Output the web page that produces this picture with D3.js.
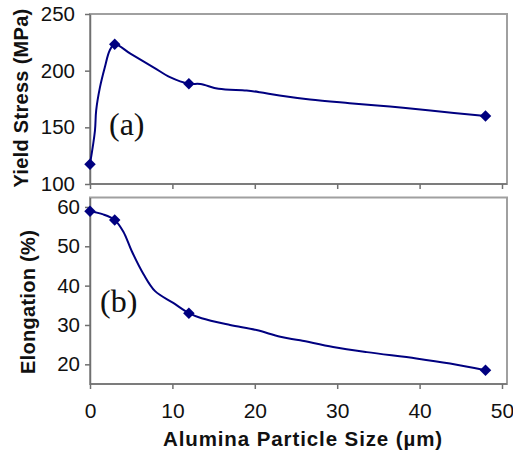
<!DOCTYPE html>
<html><head><meta charset="utf-8">
<script src="https://cdn.jsdelivr.net/npm/d3@7"></script>
<style>body{margin:0;background:#fff}svg{display:block}</style>
</head><body>
<svg id="c" width="513" height="453"></svg>
<script>
// ---- data ----
const particleSizes = [0, 3, 12, 48];
const yieldStress = [117.5, 223.3, 188.5, 160];
const elongation = [58.9, 56.7, 33, 18.5];
// traced smooth curve points (size, value)
const yieldCurveX = [0, 0.6, 0.75, 1.2, 1.8, 2.4, 3, 4.9, 7.7, 9.7, 12, 13.4, 15.6, 19, 20.6, 23, 26.7, 31.5, 36.4, 41.3, 48];
const yieldCurveY = [117.5, 147, 165, 185, 203, 218, 223.3, 215, 203, 194.3, 188.5, 188.2, 184, 182.5, 181, 178, 174.5, 171.3, 168.3, 164.8, 160];
const elongCurveX = [0, 1.6, 3, 4.05, 5.06, 6.5, 7.9, 10.1, 12, 13.55, 17, 20.2, 23.1, 25.5, 29.5, 33.6, 39.6, 43.7, 48];
const elongCurveY = [58.9, 58.1, 56.7, 53.7, 48.8, 42.9, 38.6, 35.6, 33, 31.7, 30, 28.7, 27, 26.1, 24.4, 23.1, 21.5, 20.2, 18.5];
const xTicks = [0, 10, 20, 30, 40, 50];
const yieldTicks = [100, 150, 200, 250];
const elongTicks = [20, 30, 40, 50, 60];

const svg = d3.select("#c");
const lineColor = "#000080";
const font = "'Liberation Sans', Arial, sans-serif";

const x = d3.scaleLinear().domain([0, 50]).range([90, 502]);
const frameRight = 507;

function panel(opts) {
  const y = d3.scaleLinear().domain(opts.domain).range([opts.bottom, opts.top]);
  const g = svg.append("g");
  // frame
  g.append("rect").attr("x", 90).attr("y", opts.top)
    .attr("width", frameRight - 90).attr("height", opts.bottom - opts.top)
    .attr("fill", "none").attr("stroke", "#a0a0a0").attr("stroke-width", 2);
  // y axis
  const ya = g.append("g").attr("transform", "translate(90,0)")
    .call(d3.axisLeft(y).tickValues(opts.ticks).tickSize(5).tickSizeOuter(0).tickPadding(opts.pad));
  ya.select(".domain").attr("stroke", "#707070").attr("stroke-width", 1.5);
  ya.selectAll(".tick line").attr("stroke", "#707070").attr("stroke-width", 1.5);
  ya.selectAll("text").attr("font-family", font).attr("font-size", 20.5).attr("fill", "#111");
  // x axis
  const xa = g.append("g").attr("transform", `translate(0,${opts.bottom})`)
    .call(d3.axisBottom(x).tickValues(xTicks).tickSize(5).tickSizeOuter(0).tickPadding(14)
      .tickFormat(opts.xLabels ? d3.format("d") : () => ""));
  xa.select(".domain").attr("stroke", "#707070").attr("stroke-width", 1.5)
    .attr("d", `M90,0H${frameRight}`);
  xa.selectAll(".tick line").attr("stroke", "#707070").attr("stroke-width", 1.5);
  xa.selectAll("text").attr("font-family", font).attr("font-size", 21).attr("fill", "#111");
  // curve
  const pts = opts.cx.map((v, i) => [v, opts.cy[i]]);
  g.append("path").datum(pts)
    .attr("d", d3.line().x(d => x(d[0])).y(d => y(d[1])).curve(d3.curveCatmullRom.alpha(0.5)))
    .attr("fill", "none").attr("stroke", lineColor).attr("stroke-width", 2);
  // markers
  g.selectAll(".m").data(particleSizes.map((v, i) => [v, opts.vals[i]])).enter()
    .append("path")
    .attr("d", d3.symbol().type(d3.symbolSquare).size(66))
    .attr("transform", d => `translate(${x(d[0])},${y(d[1])}) rotate(45)`)
    .attr("fill", lineColor);
  // panel label
  g.append("text").attr("x", opts.lx).attr("y", opts.ly)
    .attr("font-family", "'Liberation Serif', 'Times New Roman', serif")
    .attr("font-size", 32).attr("fill", "#111").text(opts.label);
  // y title
  g.append("text").attr("transform", `translate(${opts.tx},${opts.ty}) rotate(-90)`)
    .attr("text-anchor", "middle").attr("font-family", font).attr("font-weight", "bold")
    .attr("font-size", 20).attr("letter-spacing", 0.3).attr("fill", "#111").text(opts.title);
  return y;
}

panel({domain: [100, 250], top: 14, bottom: 184, ticks: yieldTicks, pad: 10,
  cx: yieldCurveX, cy: yieldCurveY, vals: yieldStress, xLabels: false,
  label: "(a)", lx: 109, ly: 135, title: "Yield Stress (MPa)", tx: 28, ty: 98});
panel({domain: [15, 62.4], top: 197.5, bottom: 384, ticks: elongTicks, pad: 5,
  cx: elongCurveX, cy: elongCurveY, vals: elongation, xLabels: true,
  label: "(b)", lx: 100, ly: 312, title: "Elongation (%)", tx: 35, ty: 302});

svg.append("text").attr("x", 303).attr("y", 446).attr("text-anchor", "middle")
  .attr("font-family", font).attr("font-weight", "bold").attr("font-size", 20.5)
  .attr("fill", "#111").attr("letter-spacing", 0.9).text("Alumina Particle Size (µm)");
</script>
</body></html>
